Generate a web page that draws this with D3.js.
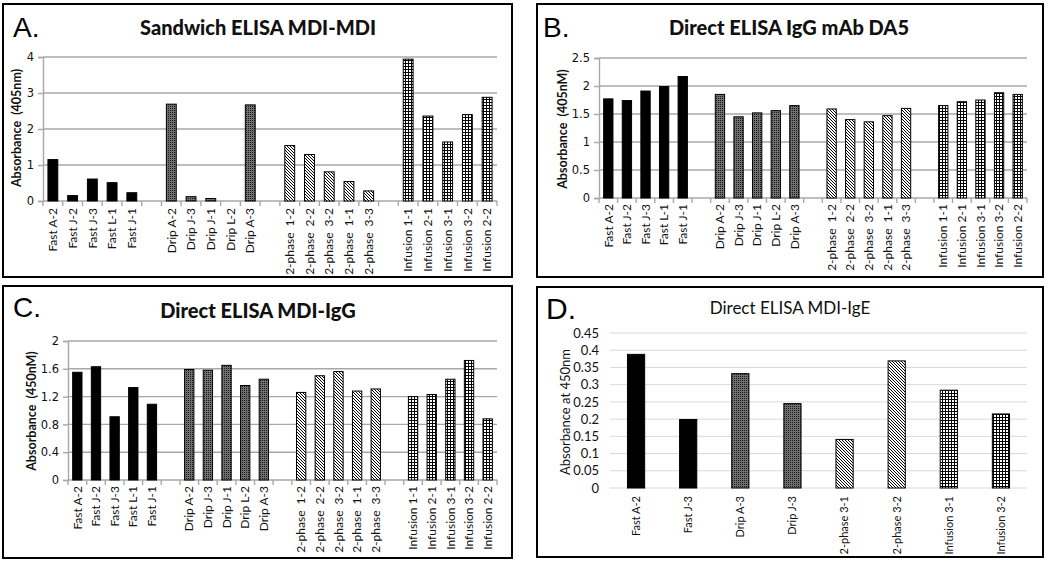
<!DOCTYPE html>
<html><head><meta charset="utf-8">
<script src="https://cdn.jsdelivr.net/npm/d3@7/dist/d3.min.js"></script>
<style>body{margin:0;background:#fff}svg{display:block}</style>
</head><body><svg id="c" width="1050" height="564"></svg>
<script>
// ---------- DATA ----------
const catsABC = ["Fast A-2","Fast J-2","Fast J-3","Fast L-1","Fast J-1",
  "Drip A-2","Drip J-3","Drip J-1","Drip L-2","Drip A-3",
  "2-phase  1-2","2-phase  2-2","2-phase  3-2","2-phase  1-1","2-phase  3-3",
  "Infusion 1-1","Infusion 2-1","Infusion 3-1","Infusion 3-2","Infusion 2-2"];
const groupsABC = ["fast","fast","fast","fast","fast","drip","drip","drip","drip","drip",
  "phase","phase","phase","phase","phase","inf","inf","inf","inf","inf"];
const valuesA = [1.15,0.15,0.61,0.51,0.23, 2.69,0.12,0.07,0.0,2.67, 1.54,1.29,0.81,0.54,0.28, 3.94,2.36,1.64,2.40,2.88];
const valuesB = [1.77,1.74,1.91,1.99,2.17, 1.85,1.45,1.52,1.56,1.65, 1.59,1.40,1.36,1.47,1.60, 1.65,1.72,1.75,1.88,1.85];
const valuesC = [1.55,1.63,0.91,1.33,1.09, 1.59,1.58,1.65,1.36,1.45, 1.26,1.50,1.56,1.28,1.31, 1.20,1.23,1.45,1.72,0.88];
const catsD = ["Fast A-2","Fast J-3","Drip A-3","Drip J-3","2-phase 3-1","2-phase 3-2","Infusion 3-1","Infusion 3-2"];
const groupsD = ["fast","fast","drip","drip","phase","phase","inf","inf"];
const valuesD = [0.388,0.199,0.332,0.245,0.141,0.369,0.284,0.215];
const ticksA = [0,1,2,3,4];
const ticksB = [0,0.5,1,1.5,2,2.5];
const ticksC = [0,0.4,0.8,1.2,1.6,2];
const ticksD = [0,0.05,0.1,0.15,0.2,0.25,0.3,0.35,0.4,0.45];
const titles = ["Sandwich ELISA MDI-MDI","Direct ELISA IgG mAb DA5","Direct ELISA MDI-IgG","Direct ELISA MDI-IgE"];
const letters = ["A.","B.","C.","D."];
const yTitles = ["Absorbance  (405nm)","Absorbance  (405nM)","Absorbance  (450nM)","Absorbance at 450nm"];

// ---------- DRAW ----------
const svg = d3.select("#c");
const defs = svg.append("defs");
// drip: fine dither
const pd = defs.append("pattern").attr("id","p-drip").attr("patternUnits","userSpaceOnUse").attr("width",2).attr("height",2);
pd.append("rect").attr("width",2).attr("height",2).attr("fill","#707070");
pd.append("rect").attr("width",1).attr("height",1).attr("fill","#1a1a1a");
// 2-phase: diagonal hatch "\"
const ph = defs.append("pattern").attr("id","p-phase").attr("patternUnits","userSpaceOnUse").attr("width",3).attr("height",3);
ph.append("rect").attr("width",3).attr("height",3).attr("fill","#fff");
ph.append("path").attr("d","M-1,-1L4,4M-1,2L1,4M2,-1L4,1").attr("stroke","#000").attr("stroke-width",1);
// infusion: grid
const pg = defs.append("pattern").attr("id","p-inf").attr("patternUnits","userSpaceOnUse").attr("width",3).attr("height",3);
pg.append("rect").attr("width",3).attr("height",3).attr("fill","#fff");
pg.append("path").attr("d","M0,0.5H3M0.5,0V3").attr("stroke","#000").attr("stroke-width",1);
const fills = {fast:"#000", drip:"url(#p-drip)", phase:"url(#p-phase)", inf:"url(#p-inf)"};

const panels = [
  {box:[3,4,512,277], px:[43,497], py:[201,57], vals:valuesA, cats:catsABC, groups:groupsABC, ticks:ticksA, fmt:d3.format("d"),
   letter:[13,37], title:[258,35], ytitle:[17,128], labOff:7, tickLabX:10},
  {box:[537,4,1043,277], px:[599,1027], py:[198,58], vals:valuesB, cats:catsABC, groups:groupsABC, ticks:ticksB, fmt:d3.format(""),
   letter:[543,37], title:[789,35], ytitle:[563,129], labOff:6, tickLabX:9},
  {box:[3,286,512,558], px:[68,497], py:[480,341], vals:valuesC, cats:catsABC, groups:groupsABC, ticks:ticksC, fmt:d3.format(""),
   letter:[13,317], title:[258,318], ytitle:[32,411], labOff:6, tickLabX:8},
  {box:[537,287,1043,557], px:[610,1027], py:[488,333], vals:valuesD, cats:catsD, groups:groupsD, ticks:ticksD, fmt:d3.format(""),
   letter:[546,319], title:[790,314], ytitle:[565,412], labOff:8, tickLabX:11, styleD:true}
];

panels.forEach((p,i)=>{
  const g = svg.append("g");
  const [x0,y0,x1,y1] = p.box;
  g.append("rect").attr("x",x0).attr("y",y0).attr("width",x1-x0).attr("height",y1-y0)
    .attr("fill","#fff").attr("stroke","#000").attr("stroke-width",2);
  g.append("text").attr("x",p.letter[0]).attr("y",p.letter[1]).text(letters[i])
    .attr("font-family","Liberation Sans, Arial").attr("font-size",p.styleD?30:28).attr("fill","#000");
  g.append("text").attr("x",p.title[0]).attr("y",p.title[1]).attr("text-anchor","middle").text(titles[i])
    .attr("font-family","Lato").attr("font-weight",p.styleD?"normal":"900").attr("font-size",p.styleD?17:20).attr("fill","#111");

  // domain with gap slots
  let domain;
  if (!p.styleD) {
    domain = [];
    p.cats.forEach((c,k)=>{ if (k>0 && k%5===0) domain.push("gap"+k); domain.push(c); });
  } else domain = p.cats.slice();
  const x = d3.scaleBand().domain(domain).range(p.px).paddingInner(0).paddingOuter(0);
  const y = d3.scaleLinear().domain([0, p.ticks[p.ticks.length-1]]).range(p.py);
  const gridCol = p.styleD ? "#d9d9d9" : "#a8a8a8";

  // gridlines
  g.append("g").selectAll("line").data(p.ticks).join("line")
    .attr("x1",p.px[0]).attr("x2",p.px[1]).attr("y1",d=>y(d)).attr("y2",d=>y(d))
    .attr("stroke",gridCol).attr("stroke-width",p.styleD?1:1.4);

  // y axis
  const yAx = d3.axisLeft(y).tickValues(p.ticks).tickFormat(p.fmt).tickSize(p.styleD?0:5).tickPadding(p.styleD?p.tickLabX:4);
  const ya = g.append("g").attr("transform",`translate(${p.px[0]},0)`).call(yAx);
  ya.select(".domain").attr("stroke", p.styleD?"none":gridCol).attr("stroke-width",1.4);
  ya.selectAll(".tick line").attr("stroke",gridCol).attr("stroke-width",1.4);
  ya.selectAll("text").attr("font-family", p.styleD?"Lato":"DejaVu Sans").attr("font-size",p.styleD?13:11.5).attr("fill","#111");

  // x axis
  if (!p.styleD) {
    const bounds = domain.map(d=>x(d)).concat([p.px[1]]);
    g.append("g").selectAll("line").data(bounds).join("line")
      .attr("x1",d=>d).attr("x2",d=>d).attr("y1",p.py[0]).attr("y2",p.py[0]+5)
      .attr("stroke",gridCol).attr("stroke-width",1.4);
  }

  // bars
  const bwRatio = p.styleD ? 0.33 : 0.5;
  const bw = x.bandwidth()*bwRatio;
  g.append("g").selectAll("rect").data(p.vals.map((v,k)=>({v,c:p.cats[k],grp:p.groups[k]}))).join("rect")
    .attr("x",d=>x(d.c)+x.bandwidth()/2-bw/2).attr("width",bw)
    .attr("y",d=>y(d.v)).attr("height",d=>y(0)-y(d.v))
    .attr("fill",d=>fills[d.grp]).attr("stroke","#000").attr("stroke-width",d=>d.v>0?1:0);

  // x labels
  g.append("g").selectAll("text").data(p.cats).join("text")
    .attr("transform",d=>`translate(${x(d)+x.bandwidth()/2},${p.py[0]+p.labOff}) rotate(-90)`)
    .attr("text-anchor","end").attr("dy","0.35em").text(d=>d)
    .attr("font-family","Lato").attr("font-size",p.styleD?11:12).attr("fill","#111")
    .style("white-space","pre");

  // y title
  g.append("text").attr("transform",`translate(${p.ytitle[0]},${p.ytitle[1]}) rotate(-90)`)
    .attr("text-anchor","middle").attr("dy","0.35em").text(yTitles[i]).style("white-space","pre")
    .attr("font-family","Lato").attr("font-weight",p.styleD?"normal":"bold").attr("font-size",p.styleD?13:12.5).attr("fill","#111");
});
</script></body></html>
